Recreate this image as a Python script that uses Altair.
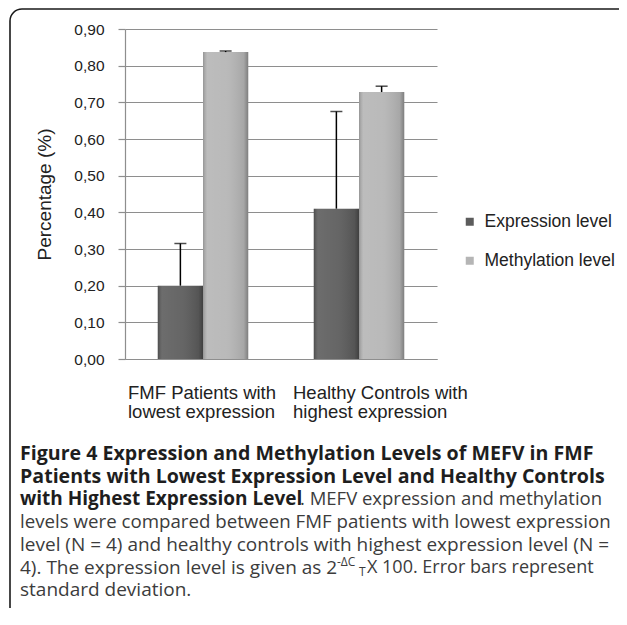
import altair as alt
import pandas as pd

# ---- data ----
groups = ["FMF Patients with|lowest expression", "Healthy Controls with|highest expression"]
series = ["Expression level", "Methylation level"]
expression = [0.20, 0.41]
expression_sd = [0.115, 0.265]
methylation = [0.837, 0.728]
methylation_sd = [0.003, 0.016]
y_ticks = [0.0, 0.1, 0.2, 0.3, 0.4, 0.5, 0.6, 0.7, 0.8, 0.9]
colors = ["#5c5c5c", "#b5b5b5"]

caption_bold = [
    "Figure 4 Expression and Methylation Levels of MEFV in FMF",
    "Patients with Lowest Expression Level and Healthy Controls",
    "with Highest Expression Level",
]
caption_line3_rest = ". MEFV expression and methylation"
caption_regular = [
    "levels were compared between FMF patients with lowest expression",
    "level (N = 4) and healthy controls with highest expression level (N =",
]
caption_line6 = ["4). The expression level is given as 2", "-\u0394C", "T", "X 100. Error bars represent"]
caption_last = "standard deviation."

rows = []
for i, g in enumerate(groups):
    rows.append(dict(group=g, series=series[0], value=expression[i], sd=expression_sd[i]))
    rows.append(dict(group=g, series=series[1], value=methylation[i], sd=methylation_sd[i]))
df = pd.DataFrame(rows)
df["top"] = df["value"] + df["sd"]

GRID = "#8e8e8e"
TXT = "#222222"
FONT = "Liberation Sans"
CFONT = "Open Sans"

x_enc = alt.X(
    "group:N",
    sort=groups,
    scale=alt.Scale(paddingInner=0.42, paddingOuter=0.21),
    axis=alt.Axis(
        title=None,
        labelExpr="split(datum.label, '|')",
        labelAlign="left",
        labelOffset={"expr": "indexof(datum.value, 'FMF') >= 0 ? -75 : -66"},
        labelBaseline="top",
        labelFontSize=18.5,
        labelLineHeight=19,
        labelPadding=24,
        labelFont=FONT,
        labelColor=TXT,
        labelAngle=0,
        ticks=False,
        domainColor=GRID,
        domainWidth=1.2,
        grid=False,
    ),
)
xo_enc = alt.XOffset("series:N", sort=series, scale=alt.Scale(paddingInner=0, paddingOuter=0))
y_scale = alt.Scale(domain=[0, 0.9], nice=False)
y_axis = alt.Axis(
    values=y_ticks,
    labelExpr="replace(format(datum.value, '.2f'), '.', ',')",
    labelOverlap=False,
    title="Percentage (%)",
    titleFont=FONT,
    titleFontSize=19,
    titleFontWeight="normal",
    titleColor=TXT,
    titlePadding=19,
    labelFont=FONT,
    labelFontSize=15.5,
    labelColor=TXT,
    labelPadding=14,
    tickSize=7,
    tickColor=GRID,
    tickWidth=1.2,
    domainColor=GRID,
    domainWidth=1.2,
    grid=True,
    gridColor=GRID,
    gridWidth=1.2,
)
y_enc = alt.Y("value:Q", scale=y_scale, axis=y_axis)
y_top = alt.Y("top:Q", scale=y_scale, axis=y_axis)

base = alt.Chart(df)

bars = base.mark_bar().encode(
    x=x_enc,
    xOffset=xo_enc,
    y=y_enc,
    color=alt.Color(
        "series:N",
        sort=series,
        scale=alt.Scale(domain=series, range=colors),
        legend=alt.Legend(
            title=None,
            orient="none",
            legendX=336,
            legendY=184,
            symbolType="square",
            symbolSize=64,
            symbolStrokeWidth=0,
            labelFont=FONT,
            labelFontSize=17.5,
            labelColor=TXT,
            labelOffset=6,
            rowPadding=20,
            padding=0,
        ),
    ),
)

shade = base.mark_bar(
    fill=alt.Gradient(
        gradient="linear",
        x1=0, x2=1, y1=0, y2=0,
        stops=[
            alt.GradientStop(color="rgba(0,0,0,0.18)", offset=0),
            alt.GradientStop(color="rgba(255,255,255,0.10)", offset=0.1),
            alt.GradientStop(color="rgba(255,255,255,0.06)", offset=0.55),
            alt.GradientStop(color="rgba(0,0,0,0.08)", offset=0.9),
            alt.GradientStop(color="rgba(0,0,0,0.30)", offset=1),
        ],
    )
).encode(x=x_enc, xOffset=xo_enc, y=y_enc)

err = base.mark_rule(color="#000000", strokeWidth=1.5).encode(
    x=x_enc, xOffset=xo_enc, y=y_enc, y2="top:Q"
)
cap = base.mark_tick(color="#000000", thickness=1.5, size=12, orient="horizontal").encode(
    x=x_enc, xOffset=xo_enc, y=y_top
)

one = pd.DataFrame({"a": [0]})
border = alt.Chart(one).mark_rect(
    fillOpacity=0, stroke="#1a1a1a", strokeWidth=1.6, cornerRadiusTopLeft=12
).encode(x=alt.value(-115), x2=alt.value(502), y=alt.value(-20), y2=alt.value(640))

X0 = -105
LH = 22.7
Y0 = 425
REG = 19
layers = [bars, shade, err, cap, border]


def txt(s, x, y, bold=False, size=REG, color="#3c3c3c", align="left"):
    return alt.Chart(one).mark_text(
        text=s,
        align=align,
        baseline="middle",
        font=CFONT,
        fontSize=size,
        fontWeight="bold" if bold else "normal",
        color=color,
    ).encode(x=alt.value(x), y=alt.value(y))


layers.append(txt(caption_bold[0], X0, Y0, bold=True, size=19.6, color="#1e1e1e"))
layers.append(txt(caption_bold[1], X0, Y0 + LH, bold=True, size=19.6, color="#1e1e1e"))
layers.append(txt(caption_bold[2], X0, Y0 + 2 * LH, bold=True, size=19, color="#1e1e1e"))
layers.append(txt(caption_line3_rest, 175, Y0 + 2 * LH, size=18.5))
layers.append(txt(caption_regular[0], X0, Y0 + 3 * LH, size=18.7))
layers.append(txt(caption_regular[1], X0, Y0 + 4 * LH))
y6 = Y0 + 5 * LH
layers.append(txt(caption_line6[0], X0, y6))
layers.append(txt(caption_line6[1], 212, y6 - 6, size=12))
layers.append(txt(caption_line6[2], 234, y6 + 4, size=12))
layers.append(txt(caption_line6[3], 242, y6, size=18))
layers.append(txt(caption_last, X0, Y0 + 6 * LH))

chart = (
    alt.layer(*layers)
    .properties(
        width=312,
        height=330,
        padding={"left": 117, "top": 21, "right": 182, "bottom": 249},
        autosize=alt.AutoSizeParams(type="none"),
        background="#ffffff",
    )
    .configure_view(stroke=None)
)

chart.save("out.html", embed_options={"renderer": "svg", "actions": False})
